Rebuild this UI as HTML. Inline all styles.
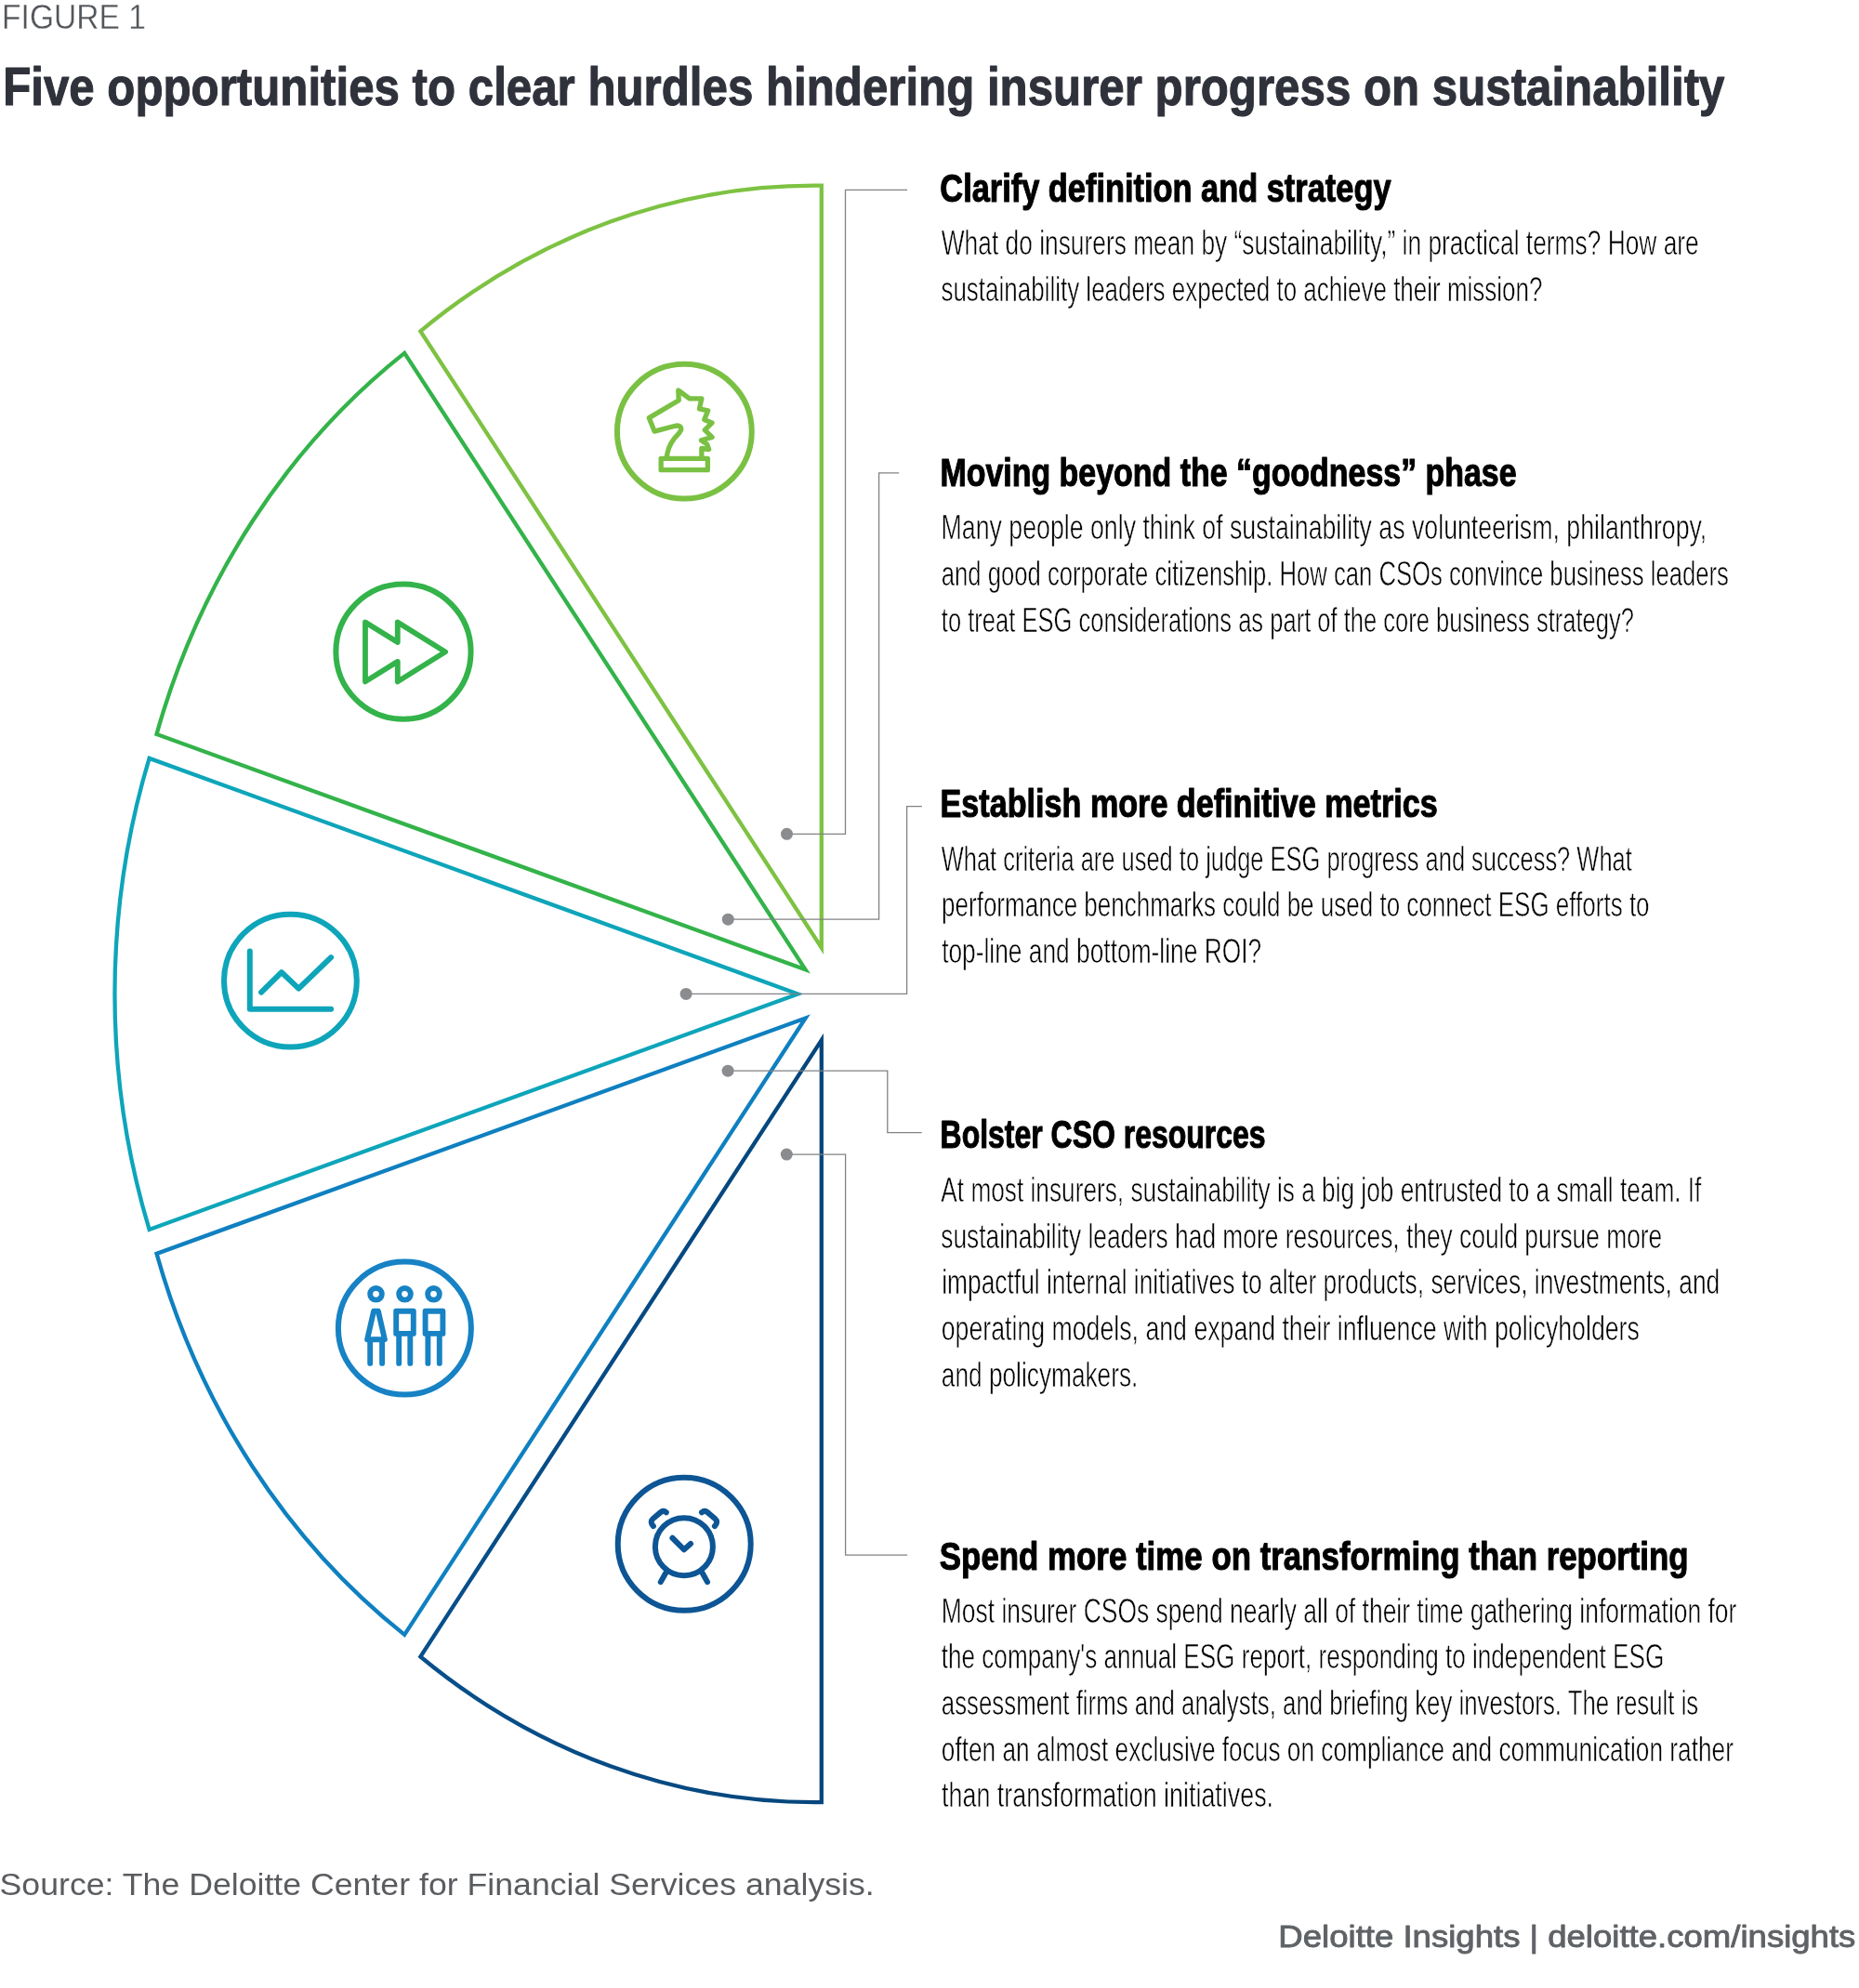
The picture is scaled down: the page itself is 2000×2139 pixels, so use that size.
<!DOCTYPE html>
<html lang="en"><head><meta charset="utf-8"><title>Figure 1</title>
<style>html,body{margin:0;padding:0;background:#fff}svg{display:block}text{font-family:"Liberation Sans",Arial,sans-serif}.b{font-size:36.5px;fill:#000;stroke:#fff;stroke-width:.62px}.h{font-size:43px;font-weight:bold;fill:#000;stroke:#000;stroke-width:1.1px;stroke-linejoin:round}</style></head><body>
<svg width="2000" height="2139" viewBox="0 0 2000 2139" style="will-change:transform">
<defs><linearGradient id="g5" gradientUnits="userSpaceOnUse" x1="452" y1="0" x2="884" y2="0"><stop offset="0" stop-color="#084F8B"/><stop offset="1" stop-color="#05467C"/></linearGradient></defs>
<g fill="none" stroke-width="4.3" stroke-linejoin="miter" stroke-miterlimit="10">
<path d="M883.80,1019.70 L883.80,199.70 A711.6,795.0 0 0 0 452.37,356.31 Z" stroke="#7DC242"/>
<path d="M866.60,1043.30 L435.17,379.91 A711.6,795.0 0 0 0 168.52,789.91 Z" stroke="#33B34A"/>
<path d="M858.40,1069.40 L160.60,815.90 A711.6,795.0 0 0 0 160.60,1322.90 Z" stroke="#0EA5BA"/>
<path d="M866.60,1095.50 L168.52,1348.89 A711.6,795.0 0 0 0 435.17,1758.89 Z" stroke="#0F80C0"/>
<path d="M883.80,1119.10 L452.37,1782.49 A711.6,795.0 0 0 0 883.80,1939.10 Z" stroke="url(#g5)"/>
</g>
<g fill="none" stroke="#808285" stroke-width="1.3">
<polyline points="846.5,897.3 909.5,897.3 909.5,204.4 976,204.4"/>
<polyline points="783.3,989.2 945.6,989.2 945.6,508.9 967.1,508.9"/>
<polyline points="738.1,1069.4 975.6,1069.4 975.6,867.7 991.9,867.7"/>
<polyline points="783.1,1152.2 954.8,1152.2 954.8,1218.6 991.7,1218.6"/>
<polyline points="846.3,1242.1 909.6,1242.1 909.6,1673.1 976.2,1673.1"/>
</g>
<g fill="#8A8C8F">
<circle cx="846.5" cy="897.3" r="6.5"/>
<circle cx="783.3" cy="989.2" r="6.5"/>
<circle cx="738.1" cy="1069.4" r="6.5"/>
<circle cx="783.1" cy="1152.2" r="6.5"/>
<circle cx="846.3" cy="1242.1" r="6.5"/>
</g>
<g transform="translate(736.35,464.2)" fill="none" stroke="#7AC143" stroke-linecap="round" stroke-linejoin="round">
<circle r="72.4" stroke-width="6"/>
<path stroke-width="5.3" d="M-19.2,29.1 C-18.5,19 -14,11.5 -11,7.6 C-9,5 -5.5,2.5 -4,-1 C-2.5,-4.5 -5,-7 -10,-5.9 L-32.3,-0.1 L-38.1,-14.6 L-6.1,-33.5 L-6.6,-44.2 L5.5,-35.4 L18.5,-35.4 L16.1,-24.3 L25.3,-22.4 L21.4,-12.7 L29.7,-9.3 L21.9,-1.5 L29.7,6.2 L18.1,9.6 L24.4,13.9 L26.3,19.3 L18.5,18.3 L18.5,29.1"/>
<rect stroke-width="5.3" x="-25.2" y="29.1" width="50.2" height="12.4"/>
</g>
<g transform="translate(433.98,701.1)" fill="none" stroke="#33B34A" stroke-linecap="round" stroke-linejoin="round">
<circle r="72.6" stroke-width="6"/>
<path stroke-width="5.8" d="M-41,-31.6 L-6.2,-10.1 L-6.2,-31.6 L45.1,0.3 L-6.2,32.3 L-6.2,10.7 L-41,32.3 Z"/>
</g>
<g transform="translate(312.4,1055.2)" fill="none" stroke="#0EA5BA" stroke-linecap="round" stroke-linejoin="round">
<circle r="71.4" stroke-width="6"/>
<path stroke-width="6" d="M-43.6,-31.7 L-43.6,30.55 L43.7,30.55"/>
<path stroke-width="6" d="M-31.3,12.5 L-9.5,-9.15 L8.9,8.5 L43.7,-25.1"/>
</g>
<g transform="translate(435.4,1429.1)" fill="none" stroke="#1782C4" stroke-linecap="round" stroke-linejoin="round">
<circle r="71.5" stroke-width="6"/>
<g stroke-width="5.9">
<circle cx="-30.9" cy="-36.8" r="6.35"/>
<circle cx="0.1" cy="-36.8" r="6.35"/>
<circle cx="31.1" cy="-36.8" r="6.35"/>
<path d="M-33.3,-18.4 L-28.5,-18.4 L-21.5,12.1 L-40.3,12.1 Z M-37.2,12.1 L-37.2,37.8 M-24.3,12.1 L-24.3,37.8"/>
<path d="M-9.2,-18.4 H9.4 V5.8 H-9.2 Z M-6.2,5.8 V37.8 M5.9,5.8 V37.8"/>
<path d="M22.2,-18.4 H41 V5.8 H22.2 Z M25,5.8 V37.8 M37.4,5.8 V37.8"/>
</g></g>
<g transform="translate(736.2,1661.35)" fill="none" stroke="#0D5594" stroke-linecap="round" stroke-linejoin="round">
<circle r="71.5" stroke-width="6"/>
<g stroke-width="6">
<circle cx="-0.3" cy="2.8" r="31"/>
<path d="M-12.8,-6.6 L-0.2,5.95 L6.8,-0.3"/>
<path d="M-19.4,-34 Q-22.5,-36.8 -25.8,-34 L-33.6,-27.4 Q-37.6,-23.8 -33.3,-19.2"/>
<path d="M18.8,-34 Q21.9,-36.8 25.2,-34 L33,-27.4 Q37,-23.8 32.7,-19.2"/>
<path d="M-20,31.1 L-25.4,40.8 M19.5,31.1 L24.8,40.8"/>
</g></g>
<g>
<text class="f" x="2.1" y="30.9" textLength="154.7" lengthAdjust="spacingAndGlyphs" style="font-size:36.5px;fill:#53565A;stroke:#fff;stroke-width:.35px">FIGURE 1</text>
<text class="t" x="3.16" y="113" textLength="1852.3" lengthAdjust="spacingAndGlyphs" style="font-size:58px;font-weight:bold;fill:#2F313B;stroke:#2F313B;stroke-width:1.1px;stroke-linejoin:round">Five opportunities to clear hurdles hindering insurer progress on sustainability</text>
<text class="h" x="1011.31" y="216.8" textLength="485.2" lengthAdjust="spacingAndGlyphs">Clarify definition and strategy</text>
<text class="b" x="1012.74" y="274.1" textLength="815.0" lengthAdjust="spacingAndGlyphs">What do insurers mean by “sustainability,” in practical terms? How are</text>
<text class="b" x="1012.41" y="324.1" textLength="647.0" lengthAdjust="spacingAndGlyphs">sustainability leaders expected to achieve their mission?</text>
<text class="h" x="1011.41" y="523.2" textLength="620.2" lengthAdjust="spacingAndGlyphs">Moving beyond the “goodness” phase</text>
<text class="b" x="1012.6" y="580.2" textLength="823.7" lengthAdjust="spacingAndGlyphs">Many people only think of sustainability as volunteerism, philanthropy,</text>
<text class="b" x="1012.81" y="630.0" textLength="847.1" lengthAdjust="spacingAndGlyphs">and good corporate citizenship. How can CSOs convince business leaders</text>
<text class="b" x="1012.81" y="679.8" textLength="745.2" lengthAdjust="spacingAndGlyphs">to treat ESG considerations as part of the core business strategy?</text>
<text class="h" x="1011.6" y="879.3" textLength="535.1" lengthAdjust="spacingAndGlyphs">Establish more definitive metrics</text>
<text class="b" x="1012.7" y="936.5" textLength="743.1" lengthAdjust="spacingAndGlyphs">What criteria are used to judge ESG progress and success? What</text>
<text class="b" x="1013.09" y="986.1" textLength="761.5" lengthAdjust="spacingAndGlyphs">performance benchmarks could be used to connect ESG efforts to</text>
<text class="b" x="1013.13" y="1036.1" textLength="344.0" lengthAdjust="spacingAndGlyphs">top-line and bottom-line ROI?</text>
<text class="h" x="1011.57" y="1235.4" textLength="350.0" lengthAdjust="spacingAndGlyphs">Bolster CSO resources</text>
<text class="b" x="1012.3" y="1292.9" textLength="818.1" lengthAdjust="spacingAndGlyphs">At most insurers, sustainability is a big job entrusted to a small team. If</text>
<text class="b" x="1012.26" y="1342.5" textLength="776.0" lengthAdjust="spacingAndGlyphs">sustainability leaders had more resources, they could pursue more</text>
<text class="b" x="1013.14" y="1392.3" textLength="837.1" lengthAdjust="spacingAndGlyphs">impactful internal initiatives to alter products, services, investments, and</text>
<text class="b" x="1012.74" y="1442.1" textLength="751.1" lengthAdjust="spacingAndGlyphs">operating models, and expand their influence with policyholders</text>
<text class="b" x="1012.8" y="1491.9" textLength="211.6" lengthAdjust="spacingAndGlyphs">and policymakers.</text>
<text class="h" x="1010.85" y="1688.7" textLength="805.8" lengthAdjust="spacingAndGlyphs">Spend more time on transforming than reporting</text>
<text class="b" x="1012.8" y="1745.7" textLength="855.6" lengthAdjust="spacingAndGlyphs">Most insurer CSOs spend nearly all of their time gathering information for</text>
<text class="b" x="1012.73" y="1795.3" textLength="777.5" lengthAdjust="spacingAndGlyphs">the company's annual ESG report, responding to independent ESG</text>
<text class="b" x="1012.79" y="1844.8" textLength="814.5" lengthAdjust="spacingAndGlyphs">assessment firms and analysts, and briefing key investors. The result is</text>
<text class="b" x="1012.79" y="1894.6" textLength="852.1" lengthAdjust="spacingAndGlyphs">often an almost exclusive focus on compliance and communication rather</text>
<text class="b" x="1013.05" y="1944.4" textLength="357.0" lengthAdjust="spacingAndGlyphs">than transformation initiatives.</text>
<text class="s" x="-0.47" y="2039.1" textLength="941.2" lengthAdjust="spacingAndGlyphs" style="font-size:34px;fill:#5A5C60">Source: The Deloitte Center for Financial Services analysis.</text>
<text class="d" x="1375.38" y="2094.8" textLength="621.0" lengthAdjust="spacingAndGlyphs" style="font-size:33.3px;fill:#5F6266;stroke:#5F6266;stroke-width:.9px;stroke-linejoin:round">Deloitte Insights | deloitte.com/insights</text>
</g>
</svg></body></html>
